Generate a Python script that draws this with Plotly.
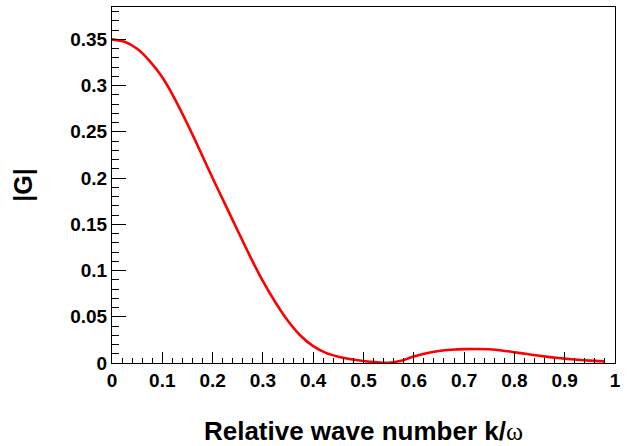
import plotly.graph_objects as go

k_over_omega = [0.0, 0.025, 0.05, 0.075, 0.1, 0.125, 0.15, 0.175, 0.2, 0.225, 0.25, 0.275,
                0.3, 0.325, 0.35, 0.375, 0.4, 0.425, 0.45, 0.475, 0.5, 0.525, 0.55, 0.575,
                0.6, 0.625, 0.65, 0.675, 0.7, 0.725, 0.75, 0.775, 0.8, 0.825, 0.85, 0.875,
                0.9, 0.925, 0.95, 0.98]
G_abs = [0.350, 0.3474, 0.3398, 0.3265, 0.309, 0.2855, 0.2585, 0.2295, 0.200, 0.1715, 0.143, 0.1148,
         0.0885, 0.0655, 0.0455, 0.0295, 0.0182, 0.0110, 0.0068, 0.0040, 0.0022, 0.0009, 0.0003, 0.0025,
         0.0070, 0.0105, 0.0129, 0.0143, 0.0150, 0.0152, 0.0148, 0.0136, 0.0117, 0.0097, 0.0078, 0.0061,
         0.0047, 0.0035, 0.0026, 0.0018]

x_ticks = [0, 0.1, 0.2, 0.3, 0.4, 0.5, 0.6, 0.7, 0.8, 0.9, 1]
y_ticks = [0, 0.05, 0.1, 0.15, 0.2, 0.25, 0.3, 0.35]

FONT = "Liberation Sans, Arial, Helvetica, sans-serif"

fig = go.Figure()
fig.add_trace(go.Scatter(x=k_over_omega, y=G_abs, mode="lines",
                         line=dict(color="#ff0000", width=2.6, shape="spline", smoothing=0.6),
                         showlegend=False, hoverinfo="skip"))

fig.update_layout(
    width=631, height=446,
    margin=dict(l=112, r=16, t=7, b=83, autoexpand=False),
    paper_bgcolor="white", plot_bgcolor="white",
    font=dict(family=FONT, color="black"),
    xaxis=dict(
        range=[0, 1], tickvals=x_ticks, ticktext=[str(v) for v in x_ticks],
        ticks="inside", ticklen=11, tickwidth=1, tickcolor="black",
        minor=dict(dtick=0.02, tick0=0, ticks="inside", ticklen=5.5, tickwidth=1, tickcolor="black", showgrid=False),
        showline=True, linecolor="black", linewidth=1, mirror=True,
        showgrid=False, zeroline=False,
        tickfont=dict(family=FONT, size=19, weight="bold"),
        title=dict(text="Relative wave number k/<span style='font-family:Liberation Serif;font-weight:normal'>ω</span>",
                   font=dict(family=FONT, size=26, weight="bold"), standoff=33),
        automargin=False,
    ),
    yaxis=dict(
        range=[0, 0.385], tickvals=y_ticks, ticktext=[("%g" % v) for v in y_ticks],
        ticks="inside", ticklen=14, tickwidth=1, tickcolor="black",
        minor=dict(dtick=0.01, tick0=0, ticks="inside", ticklen=7, tickwidth=1, tickcolor="black", showgrid=False),
        showline=True, linecolor="black", linewidth=1, mirror=True,
        showgrid=False, zeroline=False,
        tickfont=dict(family=FONT, size=19, weight="bold"),
        title=dict(text="|G|", font=dict(family=FONT, size=25, weight="bold"), standoff=30),
        automargin=False,
    ),
)

fig.write_html("out.html", config={"displayModeBar": False},
               post_script="document.body.style.margin='0';")
